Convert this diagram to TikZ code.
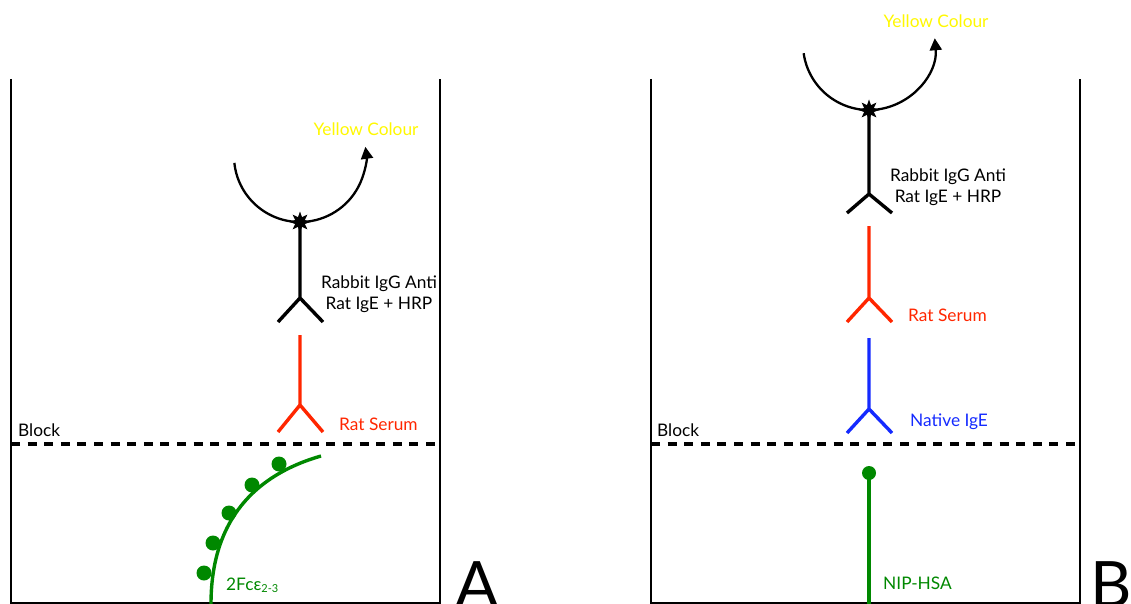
\documentclass[tikz,border=0pt]{standalone}
\usepackage{fontspec}
\setmainfont{Lato}
\usetikzlibrary{arrows.meta,shapes.geometric}
\definecolor{abred}{RGB}{255,38,0}
\definecolor{abblue}{RGB}{20,42,255}
\definecolor{abgreen}{RGB}{0,136,0}
\definecolor{colourout}{RGB}{255,248,0}

% Y-shaped antibody: colour, x, top of stem, junction, arm tips
\newcommand\drawantibody[5]{%
  \draw[antibody,#1] (#2,#3) -- (#2,#4)
    (#2-22,#5) -- (#2,#4) -- (#2+23,#5);}

\begin{document}
\begin{tikzpicture}[x=1pt,y=-1pt,
  wall/.style={line width=2.4pt},
  blockline/.style={line width=3.8pt, dash pattern=on 9pt off 7.6pt},
  antibody/.style={line width=3.4pt},
  reaction/.style={line width=2.3pt, -{Triangle[length=12pt,width=12pt]}},
  hrp/.style={star, star points=8, star point ratio=2, fill=black,
    minimum size=21pt, inner sep=0pt},
  lbl/.style={font=\fontsize{17.3}{21}\selectfont, inner sep=0pt},
  panelmark/.style={font=\fontsize{64}{64}\selectfont, inner sep=0pt, anchor=base},
  antigen/.style={abgreen, line width=3.4pt},
  bead/.style={circle, fill=abgreen, minimum size=15pt, inner sep=0pt},
]
\useasboundingbox (0,0) rectangle (1131,604);

% ---------------- Panel A ----------------
\draw[wall] (11,79) -- (11,603) -- (440,603) -- (440,79);
\draw[blockline] (11,444) -- (440,444);
\node[lbl, anchor=west] (blockA) at (18,430) {Block};

% coated 2Fc epsilon fragments on a curved surface
\draw[antigen] (211,604) .. controls (211,520) and (255,475) .. (321,456);
\node[bead] (beadA1) at (204,573) {};
\node[bead] (beadA2) at (213,543) {};
\node[bead] (beadA3) at (229,513) {};
\node[bead] (beadA4) at (252,485) {};
\node[bead] (beadA5) at (279,464) {};
\node[lbl, anchor=west, text=abgreen] (fcA) at (226,585)
  {2Fcε\raisebox{-2pt}{\fontsize{11}{12}\selectfont 2-3}};

% rat serum IgE
\drawantibody{abred}{300}{335}{405}{432}
\node[lbl, anchor=west, text=abred] (serumA) at (339,424) {Rat Serum};

% HRP-conjugated anti rat IgE
\node[hrp] (hrpA) at (300,222) {};
\drawantibody{black}{300}{222}{298}{322}
\node[lbl, align=center] (conjA) at (379,294) {Rabbit IgG Anti\\Rat IgE + HRP};
\draw[reaction] (300,156) ++(174:66) arc[start angle=174, end angle=-8, radius=66];
\node[lbl, text=colourout] (yellowA) at (366,129) {Yellow Colour};

\node[panelmark] (markA) at (477,607) {A};

% ---------------- Panel B ----------------
\draw[wall] (651,79) -- (651,603) -- (1080,603) -- (1080,79);
\draw[blockline] (651,444) -- (1080,444);
\node[lbl, anchor=west] (blockB) at (657,430) {Block};

% NIP-HSA on the plate
\node[bead, minimum size=14pt] (nipB) at (869,473) {};
\draw[antigen] (nipB.center) -- (869,604);
\node[lbl, anchor=west, text=abgreen] (nipLbl) at (883,583) {NIP-HSA};

% native IgE
\drawantibody{abblue}{869}{338}{409}{433}
\node[lbl, anchor=west, text=abblue] (nativeB) at (910,422) {Native IgE};

% rat serum IgE
\drawantibody{abred}{869}{226}{298}{322}
\node[lbl, anchor=west, text=abred] (serumB) at (908,315) {Rat Serum};

% HRP-conjugated anti rat IgE
\node[hrp] (hrpB) at (869,110) {};
\drawantibody{black}{869}{110}{194}{213}
\node[lbl, align=center] (conjB) at (948,187) {Rabbit IgG Anti\\Rat IgE + HRP};
\draw[reaction] (869,44) ++(172:66) arc[start angle=172, end angle=-5, radius=66];
\node[lbl, text=colourout] (yellowB) at (936,21) {Yellow Colour};

\node[panelmark] (markB) at (1111,607) {B};
\end{tikzpicture}
\end{document}
